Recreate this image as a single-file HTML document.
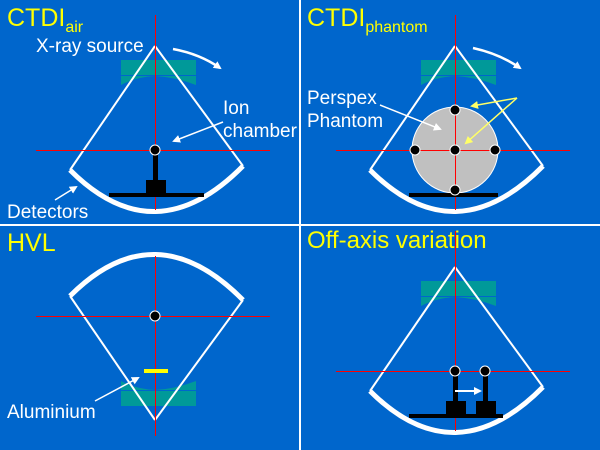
<!DOCTYPE html>
<html><head><style>
html,body{margin:0;padding:0;background:#0066CC;}
svg{display:block;}
text{font-family:"Liberation Sans",sans-serif;}
</style></head><body>
<svg width="600" height="450" viewBox="0 0 600 450" xmlns="http://www.w3.org/2000/svg">
<defs>
<marker id="aw" markerWidth="8" markerHeight="8" refX="6" refY="4" orient="auto" markerUnits="userSpaceOnUse"><path d="M0,0 L8,4 L0,8 Z" fill="#fff"/></marker>
<marker id="ay" markerWidth="8" markerHeight="8" refX="6" refY="4" orient="auto" markerUnits="userSpaceOnUse"><path d="M0,0 L8,4 L0,8 Z" fill="#ffff66"/></marker>
<g id="filter">
<rect x="121" y="60" width="75" height="15" fill="#009999"/>
<path d="M121,76 L196,76 L196,85 Q175,77 155,76 Q136,77 121,85 Z" fill="#009999"/>
</g>
<g id="fan">
<line x1="155" y1="46" x2="70" y2="170" stroke="#fff" stroke-width="2"/>
<line x1="155" y1="46" x2="243" y2="166" stroke="#fff" stroke-width="2"/>
<path d="M70,170 Q155,255 243,166" fill="none" stroke="#fff" stroke-width="5"/>
</g>
</defs>
<rect width="600" height="450" fill="#0066CC"/>
<rect x="299" y="0" width="2" height="450" fill="#fff"/>
<rect x="0" y="224" width="600" height="2" fill="#fff"/>

<!-- TL -->
<g>
<use href="#filter"/>
<use href="#fan"/>
<rect x="155" y="15" width="1" height="195" fill="#f00"/>
<rect x="36" y="150" width="234" height="1" fill="#f00"/>
<rect x="153" y="150" width="5" height="32" fill="#000"/>
<rect x="146" y="180" width="20" height="14" fill="#000"/>
<rect x="109" y="193" width="95" height="4" fill="#000"/>
<circle cx="155" cy="150" r="5" fill="#000" stroke="#fff" stroke-width="1"/>
<path d="M173,49 Q200,54 220,68" fill="none" stroke="#fff" stroke-width="2.5" marker-end="url(#aw)"/>
<line x1="223" y1="122" x2="174" y2="141" stroke="#fff" stroke-width="1.5" marker-end="url(#aw)"/>
<line x1="55" y1="200" x2="76" y2="187" stroke="#fff" stroke-width="1.5" marker-end="url(#aw)"/>
<text x="7" y="26" font-size="25" fill="#ffff00">CTDI<tspan font-size="16" dy="6">air</tspan></text>
<text x="36" y="52" font-size="19" fill="#fff">X-ray source</text>
<text x="223" y="114" font-size="19" fill="#fff">Ion</text>
<text x="223" y="137" font-size="19" fill="#fff">chamber</text>
<text x="7" y="218" font-size="19" fill="#fff">Detectors</text>
</g>

<!-- TR -->
<g transform="translate(300,0)">
<use href="#filter"/>
<use href="#fan"/>
<circle cx="155" cy="150" r="43" fill="#c0c0c0" stroke="#fff" stroke-width="1"/>
<rect x="155" y="15" width="1" height="195" fill="#f00"/>
<rect x="36" y="150" width="234" height="1" fill="#f00"/>
<rect x="109" y="193" width="89" height="4" fill="#000"/>
<g fill="#000" stroke="#fff" stroke-width="1">
<circle cx="155" cy="110" r="5"/><circle cx="115" cy="150" r="5"/><circle cx="155" cy="150" r="5"/><circle cx="195" cy="150" r="5"/><circle cx="155" cy="190" r="5"/>
</g>
<path d="M173,48 Q200,54 220,68" fill="none" stroke="#fff" stroke-width="2.5" marker-end="url(#aw)"/>
<line x1="80" y1="105" x2="140" y2="129" stroke="#fff" stroke-width="1.5" marker-end="url(#aw)"/>
<line x1="217" y1="98" x2="172" y2="106" stroke="#ffff66" stroke-width="1.5" marker-end="url(#ay)"/>
<line x1="217" y1="98" x2="166" y2="143" stroke="#ffff66" stroke-width="1.5" marker-end="url(#ay)"/>
<text x="7" y="26" font-size="25" fill="#ffff00">CTDI<tspan font-size="16" dy="6">phantom</tspan></text>
<text x="7" y="104" font-size="19" fill="#fff">Perspex</text>
<text x="7" y="127" font-size="19" fill="#fff">Phantom</text>
</g>

<!-- BL -->
<g>
<g transform="translate(0,466) scale(1,-1)">
<use href="#filter"/>
<use href="#fan"/>
</g>
<rect x="155" y="256" width="1" height="180" fill="#f00"/>
<rect x="36" y="316" width="234" height="1" fill="#f00"/>
<circle cx="155" cy="316" r="5" fill="#000" stroke="#fff" stroke-width="1"/>
<rect x="144" y="369" width="24" height="4" fill="#ffff00"/>
<line x1="95" y1="401" x2="138" y2="378" stroke="#fff" stroke-width="1.5" marker-end="url(#aw)"/>
<text x="7" y="251" font-size="25" fill="#ffff00">HVL</text>
<text x="7" y="418" font-size="19" fill="#fff">Aluminium</text>
</g>

<!-- BR -->
<g transform="translate(300,221)">
<use href="#filter"/>
<use href="#fan"/>
<rect x="155" y="10" width="1" height="200" fill="#f00"/>
<rect x="36" y="150" width="234" height="1" fill="#f00"/>
<rect x="153" y="150" width="5" height="45" fill="#000"/>
<rect x="183" y="150" width="5" height="45" fill="#000"/>
<rect x="146" y="180" width="20" height="14" fill="#000"/>
<rect x="176" y="180" width="20" height="14" fill="#000"/>
<rect x="109" y="193" width="94" height="4" fill="#000"/>
<circle cx="155" cy="150" r="5" fill="#000" stroke="#fff" stroke-width="1"/>
<circle cx="185" cy="150" r="5" fill="#000" stroke="#fff" stroke-width="1"/>
<line x1="155" y1="170" x2="180" y2="170" stroke="#fff" stroke-width="2" marker-end="url(#aw)"/>
<text x="7" y="27" font-size="24" fill="#ffff00">Off-axis variation</text>
</g>
</svg>
</body></html>
